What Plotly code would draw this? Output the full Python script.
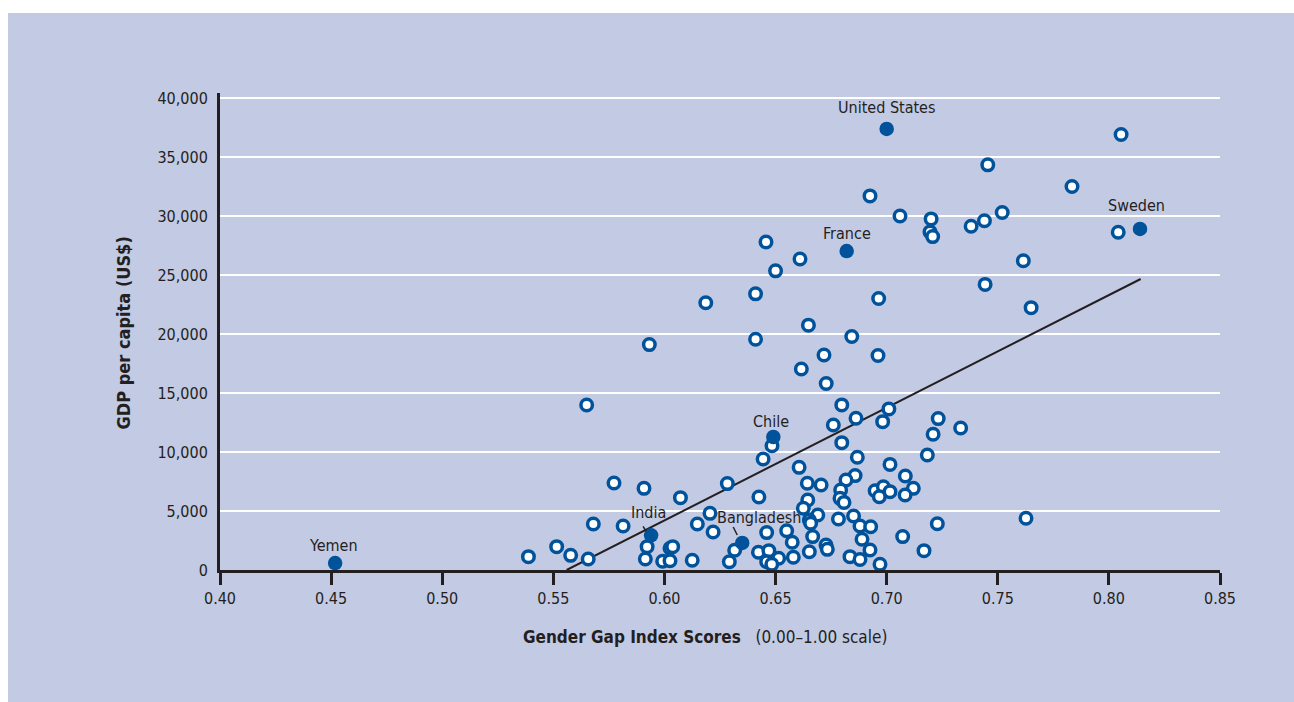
import plotly.graph_objects as go

# ---- data ----
gg_scores = [0.6925, 0.706, 0.720, 0.7195, 0.7207, 0.6457, 0.661, 0.650, 0.641, 0.6186,
             0.6964, 0.6648, 0.641, 0.5932, 0.6843, 0.6718, 0.6961, 0.6616, 0.6728, 0.565,
             0.6798, 0.8055, 0.7455, 0.7834, 0.752, 0.744, 0.738, 0.8042, 0.7615, 0.7443,
             0.765, 0.7333, 0.7627, 0.6484, 0.6444, 0.6606, 0.5773, 0.5908, 0.6072, 0.6283,
             0.6425, 0.568, 0.5814, 0.6205, 0.6148, 0.6219, 0.646, 0.655, 0.6575, 0.5515,
             0.5578, 0.5388, 0.5657, 0.5922, 0.5914, 0.6025, 0.6037, 0.5992, 0.6025, 0.6125,
             0.6316, 0.6292, 0.6423, 0.647, 0.6514, 0.646, 0.6483, 0.658, 0.6798, 0.6868,
             0.7183, 0.7015, 0.7084, 0.712, 0.7083, 0.6858, 0.6817, 0.6643, 0.6705, 0.6793,
             0.679, 0.6808, 0.6645, 0.6625, 0.669, 0.6652, 0.6658, 0.6783, 0.6851, 0.688,
             0.6928, 0.6948, 0.6985, 0.7015, 0.6967, 0.6889, 0.6925, 0.7072, 0.7168, 0.697,
             0.6835, 0.688, 0.6667, 0.6727, 0.6733, 0.6652, 0.701, 0.6862, 0.6982, 0.676,
             0.7232, 0.7209, 0.7228]
gdp_values = [31700, 30000, 29750, 28650, 28250, 27800, 26350, 25350, 23400, 22650,
              23000, 20750, 19550, 19100, 19780, 18220, 18170, 17030, 15800, 13980,
              13990, 36900, 34330, 32500, 30300, 29600, 29130, 28620, 26200, 24200,
              22230, 12030, 4380, 10530, 9400, 8700, 7370, 6920, 6130, 7320,
              6190, 3900, 3730, 4800, 3900, 3220, 3170, 3330, 2350, 1980,
              1240, 1130, 930, 1980, 930, 1840, 1980, 740, 790, 820,
              1670, 700, 1500, 1640, 990, 700, 480, 1080, 10790, 9550,
              9750, 8950, 7970, 6920, 6360, 8000, 7630, 7350, 7200, 6780,
              6070, 5730, 5930, 5230, 4660, 4240, 3960, 4320, 4580, 3730,
              3670, 6720, 7060, 6640, 6210, 2600, 1700, 2830, 1640, 480,
              1130, 900, 2830, 2120, 1750, 1550, 13650, 12860, 12570, 12290,
              12830, 11500, 3920]

hl_countries = ["United States", "France", "Sweden", "Chile", "India", "Bangladesh", "Yemen"]
hl_scores = [0.700, 0.682, 0.814, 0.649, 0.594, 0.635, 0.4518]
hl_gdp = [37380, 27030, 28900, 11270, 2940, 2290, 590]

trend_x = [0.556, 0.8143]
trend_y = [0, 24660]

x_ticks = [0.40, 0.45, 0.50, 0.55, 0.60, 0.65, 0.70, 0.75, 0.80, 0.85]
y_ticks = [0, 5000, 10000, 15000, 20000, 25000, 30000, 35000, 40000]

# ---- style ----
BG = "#C3CAE4"
BLUE = "#00529B"
INK = "#231F20"
FONT = "Liberation Sans Narrow, DejaVu Sans Condensed, Arial Narrow, sans-serif"

# page body margin is removed below, so figure px = page px
FW, FH = 1294, 702
PL, PR, PT, PB = 220, 1220, 93, 570   # plot area in figure px


def px_x(p):
    return (p - PL) / (PR - PL)


def px_y(p):
    return (PB - p) / (PB - PT)


fig = go.Figure()

fig.add_trace(go.Scatter(
    x=trend_x, y=trend_y, mode="lines",
    line=dict(color=INK, width=2), hoverinfo="skip", showlegend=False))

fig.add_trace(go.Scatter(
    x=gg_scores, y=gdp_values, mode="markers", cliponaxis=False,
    marker=dict(size=11.5, color="white", line=dict(color=BLUE, width=3.5)),
    showlegend=False))

fig.add_trace(go.Scatter(
    x=hl_scores, y=hl_gdp, mode="markers", cliponaxis=False, text=hl_countries,
    marker=dict(size=14.5, color=BLUE, line=dict(width=0)),
    showlegend=False))

# labels (offsets in pixels relative to the point)
label_offsets = {
    "United States": (0, -21),
    "France": (0, -18),
    "Sweden": (-4, -23),
    "Chile": (-2, -16),
    "India": (-3, -23),
    "Bangladesh": (17, -25),
    "Yemen": (-2, -18),
}
for name, gx, gv in zip(hl_countries, hl_scores, hl_gdp):
    dx, dy = label_offsets[name]
    fig.add_annotation(x=gx, y=gv, xref="x", yref="y", text=name,
                       showarrow=False, xshift=dx, yshift=-dy,
                       font=dict(family=FONT, size=16, color=INK))

# leader lines for India and Bangladesh
fig.add_shape(type="line", xref="x", yref="y", xsizemode="pixel", ysizemode="pixel",
              xanchor=hl_scores[4], yanchor=hl_gdp[4], x0=-8, y0=9, x1=-5, y1=4,
              line=dict(color=INK, width=1.5))
fig.add_shape(type="line", xref="x", yref="y", xsizemode="pixel", ysizemode="pixel",
              xanchor=hl_scores[5], yanchor=hl_gdp[5], x0=-9, y0=16, x1=-5, y1=8,
              line=dict(color=INK, width=1.5))

# background panel
fig.add_shape(type="rect", xref="paper", yref="paper",
              x0=px_x(8), x1=px_x(FW),
              y0=px_y(FH), y1=px_y(13),
              fillcolor=BG, line=dict(width=0), layer="below")

# axis titles
fig.add_annotation(xref="paper", yref="paper", x=px_x(110), y=px_y(333),
                   text="<b>GDP per capita (US$)</b>", textangle=-90, showarrow=False,
                   font=dict(family=FONT, size=18, color=INK))
fig.add_annotation(xref="paper", yref="paper", x=px_x(705), y=px_y(649),
                   text="<b>Gender Gap Index Scores</b>\u00a0\u00a0\u00a0(0.00\u20131.00 scale)",
                   showarrow=False,
                   font=dict(family=FONT, size=17, color=INK))

fig.update_layout(
    width=FW, height=FH,
    margin=dict(l=PL, r=FW - PR, t=PT, b=FH - PB, pad=0),
    paper_bgcolor="white", plot_bgcolor=BG,
    font=dict(family=FONT, size=16, color=INK),
    hovermode=False,
    xaxis=dict(range=[0.40, 0.85], tickvals=x_ticks,
               ticktext=[f"{v:.2f}" for v in x_ticks],
               showgrid=False, zeroline=False,
               showline=True, linecolor=INK, linewidth=3,
               ticks="outside", ticklen=12, tickwidth=3, tickcolor=INK,
               tickfont=dict(family=FONT, size=16, color=INK)),
    yaxis=dict(range=[0, 40420], tickvals=y_ticks,
               ticktext=[f"{v:,}" for v in y_ticks],
               showgrid=True, gridcolor="white", gridwidth=2, zeroline=False,
               showline=True, linecolor=INK, linewidth=3,
               ticks="", ticklabelstandoff=6,
               tickfont=dict(family=FONT, size=16, color=INK)),
)

fig.write_html("out.html",
               config={"displayModeBar": False},
               post_script="document.body.style.margin='0';"
                           "document.documentElement.style.overflow='hidden';")
